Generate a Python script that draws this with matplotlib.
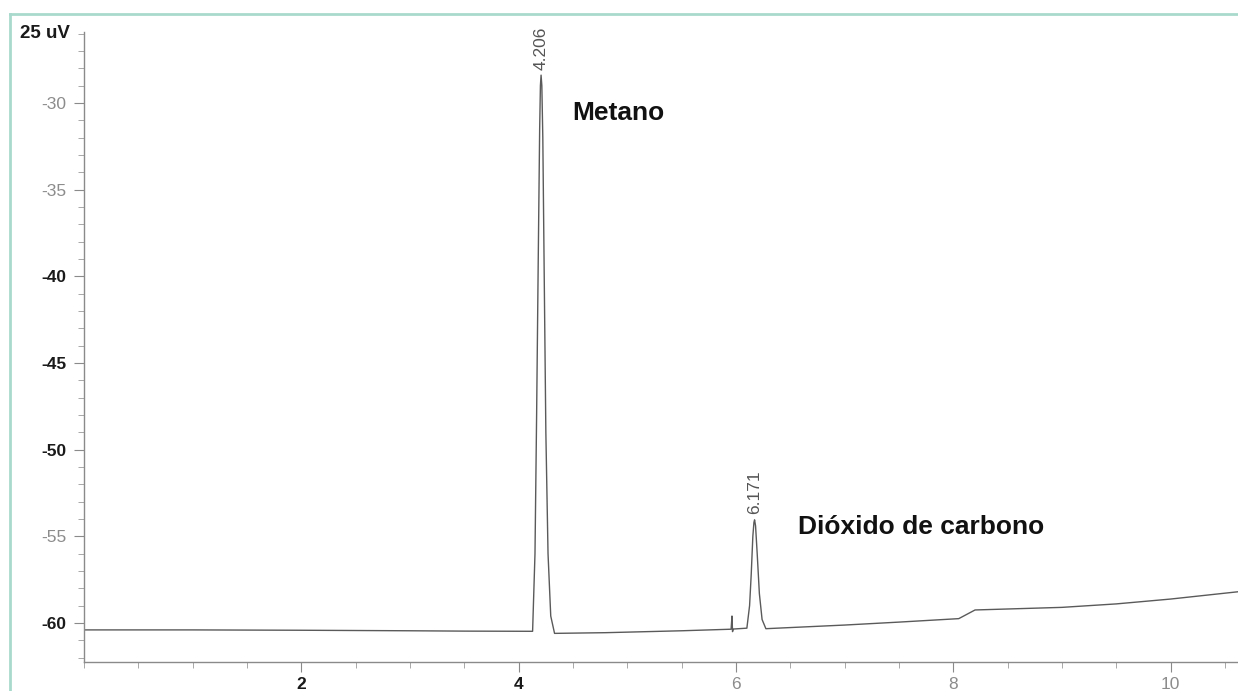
import numpy as np
import matplotlib
matplotlib.use("Agg")
import matplotlib.pyplot as plt
from matplotlib.ticker import MultipleLocator, FixedLocator
from matplotlib.lines import Line2D

plt.rcParams['font.family'] = ['Liberation Sans', 'DejaVu Sans']

# detector trace: retention time (min) and signal (uV)
time_min = [0.00, 1.00, 2.00, 3.00, 3.50, 4.10, 4.128,
            4.150, 4.165, 4.180, 4.193, 4.200, 4.206, 4.213, 4.222,
            4.235, 4.250, 4.270, 4.295, 4.330,
            4.80, 5.50, 5.955, 5.963, 5.968, 5.975, 6.100,
            6.125, 6.140, 6.155, 6.165, 6.171, 6.180, 6.195, 6.215,
            6.240, 6.275,
            7.00, 7.50, 8.05, 8.20, 9.00, 9.50, 10.00, 10.62]
signal_uv = [-60.40, -60.40, -60.42, -60.45, -60.47, -60.48, -60.48,
             -56.0, -48.0, -39.0, -31.5, -29.0, -28.4, -29.0, -32.0,
             -40.0, -49.0, -56.0, -59.6, -60.60,
             -60.56, -60.45, -60.36, -59.60, -60.50, -60.35, -60.30,
             -59.0, -57.2, -55.0, -54.2, -54.05, -54.4, -56.0, -58.3,
             -59.8, -60.33,
             -60.12, -59.95, -59.75, -59.25, -59.10, -58.90, -58.62, -58.20]

peak_times = [4.206, 6.171]
peak_heights = [-28.4, -54.05]
peak_labels = ["4.206", "6.171"]
compound_names = ["Metano", "Dióxido de carbono"]
compound_pos = [(4.49, -30.6), (6.57, -54.45)]

y_ticks = [-30, -35, -40, -45, -50, -55, -60]
y_bold = [-40, -45, -50, -60]
x_ticks = [2, 4, 6, 8, 10]
x_bold = [2, 4]

fig = plt.figure(figsize=(12.38, 6.91), dpi=100)
ax = fig.add_axes([0.0679, 0.042, 0.9321, 0.912])

ax.plot(time_min, signal_uv, color="#5a5a5a", lw=1.0)

ax.set_xlim(0, 10.62)
ax.set_ylim(-62.25, -25.9)

for s in ["top", "right"]:
    ax.spines[s].set_visible(False)
for s in ["left", "bottom"]:
    ax.spines[s].set_color("#8a8a8a")
    ax.spines[s].set_linewidth(1.0)

ax.yaxis.set_major_locator(FixedLocator(y_ticks))
ax.yaxis.set_minor_locator(MultipleLocator(1))
ax.xaxis.set_major_locator(FixedLocator(x_ticks))
ax.xaxis.set_minor_locator(MultipleLocator(0.5))
ax.tick_params(axis="both", which="major", direction="out", length=7,
               color="#8a8a8a", labelsize=12.5)
ax.tick_params(axis="both", which="minor", direction="out", length=4,
               color="#9a9a9a")
ax.tick_params(axis="y", which="major", pad=6)
ax.tick_params(axis="x", which="major", pad=4)

ax.set_yticklabels([str(v) for v in y_ticks])
ax.set_xticklabels([str(v) for v in x_ticks])
for lab, v in zip(ax.get_yticklabels(), y_ticks):
    if v in y_bold:
        lab.set_fontweight("bold")
        lab.set_color("#1a1a1a")
    else:
        lab.set_color("#8c8c8c")
for lab, v in zip(ax.get_xticklabels(), x_ticks):
    if v in x_bold:
        lab.set_fontweight("bold")
        lab.set_color("#1a1a1a")
    else:
        lab.set_color("#8c8c8c")

# unit label at the top of the y axis
ax.text(-0.012, -26.0, "25 uV", transform=ax.get_yaxis_transform(),
        ha="right", va="center", fontsize=13.5, fontweight="bold",
        color="#1a1a1a")

# retention time labels above the peaks
for t, h, lab in zip(peak_times, peak_heights, peak_labels):
    ax.annotate(lab, (t, h), xytext=(0, 4), textcoords="offset points",
                rotation=90, ha="center", va="bottom", fontsize=12.5,
                color="#555555")

for name, (tx, ty) in zip(compound_names, compound_pos):
    ax.text(tx, ty, name, fontsize=19, fontweight="bold", color="#111111",
            ha="left", va="center")

# page frame
frame_col = "#a9d9cc"
fig.add_artist(Line2D([10 / 1238, 1], [1 - 13.5 / 691, 1 - 13.5 / 691],
                      color=frame_col, lw=2.0))
fig.add_artist(Line2D([10 / 1238, 10 / 1238], [0, 1 - 13.5 / 691],
                      color=frame_col, lw=2.0))

fig.savefig("out.png", dpi=100, facecolor="white")
